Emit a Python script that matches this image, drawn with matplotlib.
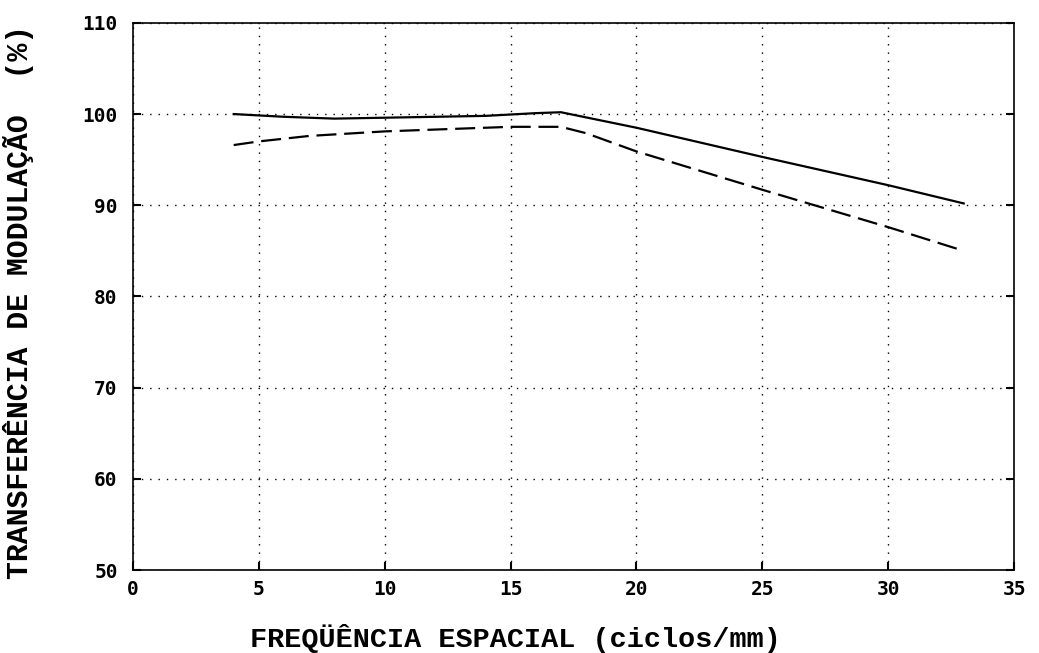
import matplotlib
matplotlib.use("Agg")
from matplotlib import pyplot as plt

# solid curve
freq_a = [4, 6, 8, 10, 12, 14, 16, 17, 20, 25, 30, 33]
mtf_a = [100.0, 99.7, 99.5, 99.6, 99.7, 99.8, 100.1, 100.2, 98.5, 95.3, 92.2, 90.2]

# dashed curve
freq_b = [4, 5, 7, 10, 13, 15, 17, 18, 20, 25, 30, 33]
mtf_b = [96.6, 97.0, 97.6, 98.1, 98.4, 98.6, 98.6, 97.9, 95.9, 91.7, 87.6, 85.0]

xticks = [0, 5, 10, 15, 20, 25, 30, 35]
yticks = [50, 60, 70, 80, 90, 100, 110]

fig = plt.figure(figsize=(10.39, 6.53), dpi=100)
ax = fig.add_axes([0.128, 0.127, 0.848, 0.838])

ax.plot(freq_a, mtf_a, color="black", lw=1.6, ls="-")
ax.plot(freq_b, mtf_b, color="black", lw=1.6, ls=(0, (9, 3.5)))

ax.set_xlim(0, 35)
ax.set_ylim(50, 110)
ax.set_xticks(xticks)
ax.set_yticks(yticks)
ax.set_xticklabels([str(v) for v in xticks], fontfamily="DejaVu Sans Mono",
                   fontweight="bold", fontsize=14)
ax.set_yticklabels([str(v) for v in yticks], fontfamily="DejaVu Sans Mono",
                   fontweight="bold", fontsize=14)
ax.grid(True, color="black", ls=(0, (1, 5)), lw=1.0)
ax.tick_params(direction="in", length=6, width=1.5, right=True, top=False, pad=5)
ax.tick_params(axis="y", pad=11)
ax.tick_params(axis="x", pad=7)
for s in ax.spines.values():
    s.set_linewidth(1.2)

ax.set_xlabel("FREQÜÊNCIA ESPACIAL (ciclos/mm)", fontfamily="Liberation Mono",
              fontweight="bold", fontsize=20.5)
ax.set_ylabel("TRANSFERÊNCIA DE MODULAÇÃO  (%)", fontfamily="Liberation Mono",
              fontweight="bold", fontsize=21.5)
ax.xaxis.set_label_coords(0.434, -0.098)
ax.yaxis.set_label_coords(-0.112, 0.49)

fig.savefig("out.png", dpi=100)
